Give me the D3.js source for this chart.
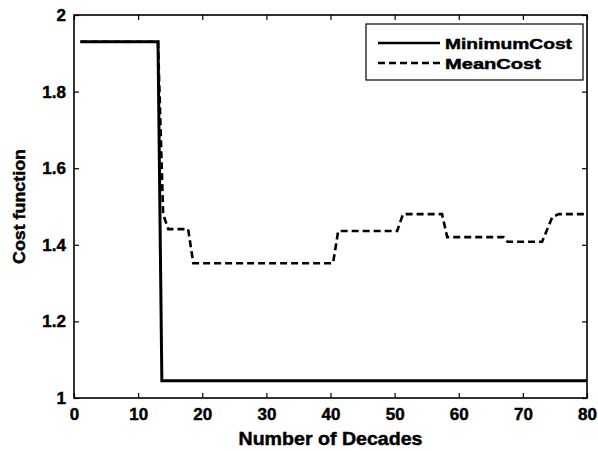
<!DOCTYPE html>
<html>
<head>
<meta charset="utf-8">
<script src="https://cdn.jsdelivr.net/npm/d3@7"></script>
<style>
  html, body { margin: 0; padding: 0; background: #fff; }
  svg { display: block; }
  text { font-family: "Liberation Sans", Arial, sans-serif; font-weight: bold; fill: #000;
         stroke: #000; stroke-width: 0.45px; }
</style>
</head>
<body>
<svg id="chart" width="598" height="451"></svg>
<script>
// Breakpoints of the two cost curves (decade, cost)
const minDecades  = [1, 13.1, 13.7, 80];
const minValues   = [1.93, 1.93, 1.045, 1.045];

const meanDecades = [1, 13.1, 13.9, 14.7, 17.8, 18.6, 40.4, 41.2, 50.4, 51.3, 57.4, 58.2,
                     67.0, 67.6, 73.0, 74.6, 75.6, 80];
const meanValues  = [1.93, 1.93, 1.48, 1.441, 1.441, 1.352, 1.352, 1.436, 1.436, 1.48, 1.48,
                     1.42, 1.42, 1.408, 1.408, 1.473, 1.48, 1.48];

const xTicks = [0, 10, 20, 30, 40, 50, 60, 70, 80];
const yTicks = [1, 1.2, 1.4, 1.6, 1.8, 2];
const yTickLabels = ["1", "1.2", "1.4", "1.6", "1.8", "2"];

const seriesNames = ["MinimumCost", "MeanCost"];

const svg = d3.select("#chart");
const plot = { left: 74, right: 587, top: 15, bottom: 398 };

const x = d3.scaleLinear().domain([0, 80]).range([plot.left, plot.right]);
const y = d3.scaleLinear().domain([1, 2]).range([plot.bottom, plot.top]);

const tickLen = 5;

// Bottom axis with labels, inward ticks
const xAxis = d3.axisBottom(x).tickValues(xTicks).tickSizeInner(-tickLen).tickSizeOuter(0)
  .tickPadding(10).tickFormat(d3.format("d"));
const gx = svg.append("g").attr("transform", `translate(0,${plot.bottom})`).call(xAxis);
gx.selectAll("text").style("font-size", "17px");

// Left axis with labels, inward ticks
const yAxis = d3.axisLeft(y).tickValues(yTicks).tickSizeInner(-tickLen).tickSizeOuter(0)
  .tickPadding(8).tickFormat((d, i) => yTickLabels[i]);
const gy = svg.append("g").attr("transform", `translate(${plot.left},0)`).call(yAxis);
gy.selectAll("text").style("font-size", "17px");

// Top and right ticks (box)
svg.append("g").attr("transform", `translate(0,${plot.top})`)
  .call(d3.axisTop(x).tickValues(xTicks).tickSizeInner(-tickLen).tickSizeOuter(0).tickFormat(""));
svg.append("g").attr("transform", `translate(${plot.right},0)`)
  .call(d3.axisRight(y).tickValues(yTicks).tickSizeInner(-tickLen).tickSizeOuter(0).tickFormat(""));

svg.selectAll(".domain").remove();
svg.selectAll(".tick line").attr("stroke", "#000").attr("stroke-width", 1.2);

// Plot frame
svg.append("rect")
  .attr("x", plot.left).attr("y", plot.top)
  .attr("width", plot.right - plot.left).attr("height", plot.bottom - plot.top)
  .attr("fill", "none").attr("stroke", "#000").attr("stroke-width", 1.6);

// Curves
const line = d3.line().x(d => x(d[0])).y(d => y(d[1]));
const meanPts = meanDecades.map((d, i) => [d, meanValues[i]]);
const minPts = minDecades.map((d, i) => [d, minValues[i]]);

svg.append("path").datum(meanPts).attr("d", line)
  .attr("fill", "none").attr("stroke", "#000").attr("stroke-width", 2.6)
  .attr("stroke-dasharray", "7,4");
svg.append("path").datum(minPts).attr("d", line)
  .attr("fill", "none").attr("stroke", "#000").attr("stroke-width", 3);

// Axis titles
svg.append("text")
  .attr("x", (plot.left + plot.right) / 2).attr("y", 445)
  .attr("text-anchor", "middle").style("font-size", "18px")
  .attr("textLength", 184).attr("lengthAdjust", "spacingAndGlyphs")
  .text("Number of Decades");

svg.append("text")
  .attr("transform", `translate(25,${(plot.top + plot.bottom) / 2}) rotate(-90)`)
  .attr("text-anchor", "middle").style("font-size", "17px")
  .attr("textLength", 115).attr("lengthAdjust", "spacingAndGlyphs")
  .text("Cost function");

// Legend
const legend = svg.append("g");
legend.append("rect")
  .attr("x", 366).attr("y", 24).attr("width", 217).attr("height", 56)
  .attr("fill", "#fff").attr("stroke", "#000").attr("stroke-width", 1.2);
const rows = [
  { name: seriesNames[0], dash: null, y: 43, len: 127 },
  { name: seriesNames[1], dash: "7,4", y: 63, len: 96 }
];
rows.forEach(r => {
  legend.append("line")
    .attr("x1", 378).attr("x2", 440).attr("y1", r.y).attr("y2", r.y)
    .attr("stroke", "#000").attr("stroke-width", 2.4)
    .attr("stroke-dasharray", r.dash);
  legend.append("text")
    .attr("x", 445).attr("y", r.y + 5.5)
    .style("font-size", "15px")
    .attr("textLength", r.len).attr("lengthAdjust", "spacingAndGlyphs")
    .text(r.name);
});
</script>
</body>
</html>
